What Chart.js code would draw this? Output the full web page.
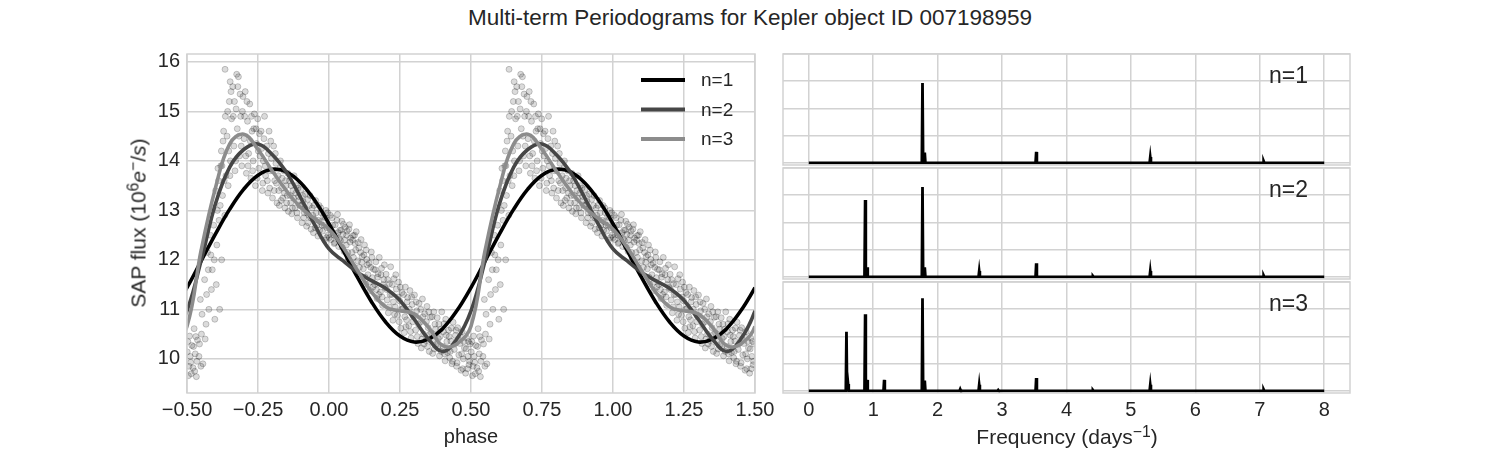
<!DOCTYPE html>
<html>
<head>
<meta charset="utf-8">
<script src="https://cdn.jsdelivr.net/npm/chart.js@4"></script>
<style>
  body { margin: 0; background: #fff; width: 1500px; height: 450px; position: relative; overflow: hidden;
         font-family: "Liberation Sans", Arial, sans-serif; color: #262626; }
  #title { position: absolute; left: 0; top: 5px; width: 1500px; text-align: center;
           font-size: 22.5px; line-height: 26px; }
  .axis-title { position: absolute; font-size: 21px; line-height: 1; white-space: nowrap;
                transform: translate(-50%, -50%); }
  .axis-title.vertical { transform: translate(-50%, -50%) rotate(-90deg); }
  .axis-title sup { font-size: 0.75em; position: relative; top: -0.45em; vertical-align: baseline; line-height: 0; }
  .axis-title i { font-style: italic; }
  canvas { position: absolute; }
</style>
</head>
<body>
<div id="title">Multi-term Periodograms for Kepler object ID 007198959</div>
<canvas id="phaseChart" width="780" height="450" style="left:0;top:0"></canvas>
<canvas id="psd1" width="578" height="121" style="left:778px;top:49px"></canvas>
<canvas id="psd2" width="578" height="121" style="left:778px;top:163px"></canvas>
<canvas id="psd3" width="578" height="173" style="left:778px;top:277px"></canvas>
<div class="axis-title vertical" style="left:138px;top:223px">SAP flux (10<sup>6</sup><i>e</i><sup>&minus;</sup>/<i>s</i>)</div>
<div class="axis-title" style="left:1067px;top:436px">Frequency (days<sup>&minus;1</sup>)</div>
<script>
// tick values
const phaseTicks = [-0.5, -0.25, 0, 0.25, 0.5, 0.75, 1, 1.25, 1.5];
const fluxTicks = [10, 11, 12, 13, 14, 15, 16];
const freqTicks = [0, 1, 2, 3, 4, 5, 6, 7, 8];
const powerTicks = [0, 0.2, 0.4, 0.6, 0.8];

// fitted curves over one period
const fitPhase = [0, 0.05, 0.1, 0.15, 0.2, 0.25, 0.3, 0.35, 0.4, 0.45,
                  0.5, 0.55, 0.6, 0.65, 0.7, 0.75, 0.8, 0.85, 0.9, 0.95];
const fitN1 = [12.73, 12.19, 11.65, 11.15, 10.74, 10.46, 10.34, 10.40, 10.61, 10.97,
               11.44, 11.98, 12.52, 13.02, 13.43, 13.71, 13.83, 13.78, 13.56, 13.20];
const fitN2 = [12.22, 11.98, 11.75, 11.58, 11.42, 11.18, 10.80, 10.40, 10.15, 10.40,
               10.97, 11.99, 13.13, 13.87, 14.23, 14.34, 14.13, 13.77, 13.26, 12.70];
const fitN3 = [12.62, 12.25, 11.79, 11.35, 11.05, 10.97, 10.91, 10.64, 10.27, 10.30,
               10.66, 12.20, 13.45, 14.34, 14.54, 14.23, 13.80, 13.40, 13.06, 12.83];

// observed [phase, flux] over one period
const observed = [
  [0.003,12.62],[0.007,12.41],[0.011,12.85],[0.015,12.55],[0.018,12.33],
  [0.022,12.71],[0.026,12.48],[0.030,12.92],[0.034,12.27],[0.038,12.60],
  [0.041,12.39],[0.045,12.78],[0.049,12.52],[0.053,12.17],[0.057,12.66],
  [0.061,12.30],[0.064,12.58],[0.068,12.02],[0.072,12.71],[0.076,12.44],
  [0.081,12.15],[0.085,12.49],[0.088,11.86],[0.092,12.33],[0.096,12.57],
  [0.101,11.98],[0.105,12.24],[0.109,11.67],[0.113,12.41],[0.117,12.07],
  [0.121,11.82],[0.125,12.30],[0.129,11.51],[0.133,12.01],[0.137,11.70],
  [0.141,11.93],[0.145,11.38],[0.149,12.16],[0.153,11.64],[0.157,11.81],
  [0.161,11.50],[0.165,11.96],[0.169,11.22],[0.173,11.72],[0.177,12.05],
  [0.181,11.35],[0.185,11.83],[0.189,11.08],[0.193,11.60],[0.197,11.44],
  [0.201,11.71],[0.205,11.19],[0.209,10.93],[0.213,11.52],[0.217,11.86],
  [0.221,11.30],[0.225,10.78],[0.229,11.62],[0.233,11.05],[0.237,11.41],
  [0.241,10.88],[0.245,11.55],[0.249,11.17],[0.253,10.62],[0.257,11.34],
  [0.261,11.02],[0.265,10.53],[0.269,11.45],[0.273,10.79],[0.277,11.24],
  [0.281,10.67],[0.285,11.38],[0.289,10.42],[0.293,11.10],[0.297,10.86],
  [0.301,11.29],[0.305,10.58],[0.309,10.97],[0.313,10.31],[0.317,11.12],
  [0.321,10.74],[0.325,10.22],[0.329,11.21],[0.333,10.50],[0.337,10.91],
  [0.341,10.37],[0.345,11.06],[0.349,10.63],[0.353,10.15],[0.357,10.84],
  [0.361,10.52],[0.365,10.11],[0.369,10.95],[0.373,10.70],[0.377,10.29],
  [0.381,10.83],[0.385,10.41],[0.389,10.06],[0.393,10.60],[0.397,10.95],
  [0.401,10.25],[0.405,10.71],[0.409,9.96],[0.413,10.48],[0.417,10.13],
  [0.421,10.58],[0.425,10.02],[0.429,10.36],[0.433,9.90],[0.437,10.74],
  [0.441,10.19],[0.445,10.47],[0.449,9.85],[0.453,10.63],[0.457,10.08],
  [0.461,10.31],[0.465,9.77],[0.469,10.55],[0.473,10.00],[0.477,10.22],
  [0.481,9.71],[0.485,10.42],[0.489,10.05],[0.493,9.88],[0.497,10.30],
  [0.501,10.14],[0.505,9.66],[0.509,10.46],[0.513,9.93],[0.517,10.27],
  [0.521,9.82],[0.525,10.61],[0.529,10.10],[0.533,9.64],[0.537,10.38],
  [0.542,10.05],[0.547,11.20],[0.551,10.50],[0.556,9.90],
  [0.562,11.60],[0.567,10.70],[0.572,12.15],[0.577,11.00],
  [0.582,12.50],[0.586,11.40],[0.591,13.05],[0.596,12.00],[0.598,10.80],
  [0.601,13.40],[0.603,11.50],[0.605,12.30],[0.609,13.85],[0.613,12.80],[0.615,11.00],[0.617,13.10],
  [0.621,14.20],[0.622,12.00],[0.625,13.30],[0.629,14.60],[0.633,12.90],[0.634,15.85],[0.637,13.70],
  [0.641,14.50],[0.645,13.50],[0.649,15.20],[0.652,15.60],[0.653,14.00],[0.657,14.85],
  [0.661,15.50],[0.665,14.30],[0.669,13.80],[0.673,15.05],[0.675,15.75],[0.677,14.65],
  [0.681,15.70],[0.685,14.10],[0.689,14.90],[0.693,13.90],[0.697,15.30],
  [0.701,14.45],[0.705,15.40],[0.709,13.75],[0.713,14.80],[0.717,14.15],
  [0.721,15.15],[0.725,13.65],[0.729,14.60],[0.733,14.00],[0.737,14.95],
  [0.741,13.50],[0.745,14.35],[0.749,14.85],[0.753,13.85],[0.757,14.10],
  [0.761,14.60],[0.765,13.40],[0.769,14.00],[0.773,14.90],[0.777,13.70],
  [0.781,14.30],[0.785,13.35],[0.789,14.60],[0.793,13.80],[0.797,14.05],
  [0.801,13.25],[0.805,14.30],[0.809,13.60],[0.813,13.95],[0.817,13.15],
  [0.821,13.70],[0.825,13.10],[0.829,14.00],[0.833,13.45],[0.837,13.25],
  [0.841,13.80],[0.845,13.05],[0.849,13.50],[0.853,13.30],[0.857,12.98],
  [0.861,13.60],[0.865,13.15],[0.869,12.93],[0.873,13.40],[0.877,13.70],
  [0.881,13.05],[0.885,13.50],[0.889,12.85],[0.893,13.28],[0.897,13.10],
  [0.901,13.42],[0.905,12.75],[0.909,13.18],[0.913,12.95],[0.917,13.33],
  [0.921,12.68],[0.925,13.22],[0.929,12.90],[0.933,13.30],[0.937,12.62],
  [0.941,13.05],[0.945,12.55],[0.949,12.82],[0.953,13.20],[0.957,12.70],
  [0.961,12.48],[0.965,13.10],[0.969,12.77],[0.973,12.95],[0.977,12.58],
  [0.981,12.88],[0.985,12.40],[0.989,13.00],[0.993,12.65],[0.997,12.50],
  // second pass over the denser parts of the cloud
  [0.001,12.45],[0.005,12.90],[0.013,12.70],[0.017,12.50],
  [0.020,12.35],[0.028,12.80],[0.032,12.55],[0.036,12.42],
  [0.043,12.60],[0.047,12.25],[0.051,12.72],[0.055,12.40],
  [0.062,12.50],[0.066,12.15],[0.070,12.62],[0.074,12.36],
  [0.083,12.40],[0.086,12.05],[0.090,12.50],[0.094,12.20],
  [0.103,12.35],[0.107,11.85],[0.111,12.15],[0.115,11.95],
  [0.123,12.10],[0.127,11.65],[0.131,12.20],[0.135,11.90],
  [0.143,11.55],[0.147,11.85],[0.151,12.05],[0.155,11.45],
  [0.163,11.80],[0.167,11.40],[0.171,11.65],[0.175,11.30],
  [0.183,11.70],[0.187,11.25],[0.191,11.50],[0.195,11.90],
  [0.203,11.40],[0.207,11.60],[0.211,11.05],[0.215,11.30],
  [0.223,11.50],[0.227,11.15],[0.231,10.90],[0.235,11.70],
  [0.243,11.25],[0.247,10.75],[0.251,11.45],[0.255,11.00],
  [0.263,11.30],[0.267,10.85],[0.271,10.65],[0.275,11.15],
  [0.283,11.00],[0.287,10.55],[0.291,11.25],[0.295,10.75],
  [0.303,10.85],[0.307,11.15],[0.311,10.45],[0.315,10.70],
  [0.323,11.00],[0.327,10.40],[0.331,10.85],[0.335,10.30],
  [0.343,10.75],[0.347,10.25],[0.351,10.95],[0.355,10.50],
  [0.363,10.85],[0.367,10.35],[0.371,10.20],[0.375,10.60],
  [0.383,10.25],[0.387,10.70],[0.391,10.45],[0.395,10.15],
  [0.403,10.55],[0.407,10.10],[0.411,10.80],[0.415,10.35],
  [0.423,10.45],[0.427,10.15],[0.431,10.62],[0.435,9.95],
  [0.443,10.30],[0.447,10.58],[0.451,9.92],[0.455,10.40],
  [0.463,10.45],[0.467,10.10],[0.471,9.80],[0.475,10.35],
  [0.483,10.20],[0.487,9.80],[0.491,10.35],[0.495,9.95],
  [0.503,10.35],[0.507,9.85],[0.511,10.05],[0.515,9.70],
  [0.523,10.25],[0.527,9.75],[0.531,10.45],[0.535,9.95],
  [0.544,10.30],[0.549,9.85],[0.553,10.90],
  [0.564,10.40],[0.569,11.30],[0.575,11.80],
  [0.584,12.10],[0.589,11.80],[0.594,12.70],
  [0.607,13.00],[0.611,13.60],[0.619,13.90],
  [0.623,13.90],[0.627,14.40],[0.631,13.60],[0.635,14.90],
  [0.643,15.00],[0.647,14.20],[0.651,13.70],[0.655,15.40],
  [0.663,14.90],[0.667,15.20],[0.671,14.00],[0.679,15.50],
  [0.683,14.50],[0.687,15.35],[0.691,14.30],[0.695,15.00],
  [0.703,14.90],[0.707,14.10],[0.711,15.20],[0.715,13.90],
  [0.723,14.40],[0.727,14.90],[0.731,13.80],[0.735,14.65],
  [0.743,14.65],[0.747,13.65],[0.751,14.20],[0.755,14.55],
  [0.763,14.25],[0.767,13.55],[0.771,14.45],[0.775,13.90],
  [0.783,13.60],[0.787,14.15],[0.791,13.45],[0.795,14.40],
  [0.803,13.80],[0.807,13.40],[0.811,14.15],[0.815,13.55],
  [0.823,13.40],[0.827,13.85],[0.831,13.20],[0.835,13.65],
  [0.843,13.35],[0.847,13.60],[0.851,13.15],[0.855,13.75],
  [0.863,13.30],[0.867,13.50],[0.871,13.05],[0.875,13.25],
  [0.883,13.35],[0.887,12.95],[0.891,13.45],[0.895,13.20],
  [0.903,13.10],[0.907,13.30],[0.911,12.85],[0.915,13.05],
  [0.923,12.95],[0.927,12.75],[0.931,13.10],[0.935,12.85],
  [0.943,12.90],[0.947,13.10],[0.951,12.65],[0.955,12.95],
  [0.963,12.80],[0.967,12.60],[0.971,13.05],[0.975,12.70],
  [0.983,12.70],[0.987,12.85],[0.991,12.45],[0.995,12.95]
];

// periodogram peaks (frequency in 1/day, power)
const freqRange = [0, 8];
const n1PeakFreq  = [1.765, 1.80, 3.53, 5.30, 7.06];
const n1PeakPower = [0.586, 0.075, 0.08, 0.042, 0.012];
const n2PeakFreq  = [0.875, 0.905, 1.765, 1.80, 2.645, 3.53, 4.41, 5.30, 7.06];
const n2PeakPower = [0.565, 0.07, 0.66, 0.07, 0.042, 0.10, 0.006, 0.042, 0.01];
const n3PeakFreq  = [0.585, 0.61, 0.875, 0.905, 1.17, 1.765, 1.80, 2.35, 2.645, 2.94, 3.53, 4.41, 5.30, 7.06];
const n3PeakPower = [0.435, 0.05, 0.563, 0.08, 0.08, 0.68, 0.075, 0.012, 0.044, 0.006, 0.094, 0.006, 0.044, 0.01];

const textColor = '#262626';
const gridColor = '#d2d2d2';
Chart.defaults.font.family = "'Liberation Sans', Arial, sans-serif";
Chart.defaults.color = textColor;

function foldCurve(values) {
  const pts = [];
  [-1, 0, 1].forEach(shift => {
    fitPhase.forEach((p, i) => pts.push({ x: p + shift, y: values[i] }));
  });
  return pts;
}

function foldObserved() {
  const pts = [];
  [-1, 0, 1].forEach(shift => {
    observed.forEach(([p, v]) => {
      const x = p + shift;
      if (x >= -0.5 && x <= 1.5) pts.push({ x: x, y: v });
    });
  });
  return pts;
}

function spikeLine(freqs, powers) {
  const hw = 0.01;
  const pts = [{ x: freqRange[0], y: 0 }];
  freqs.forEach((f, i) => {
    pts.push({ x: f - hw, y: 0 }, { x: f, y: powers[i] }, { x: f + hw, y: 0 });
  });
  pts.push({ x: freqRange[1], y: 0 });
  return pts;
}

function formatPhase(v) {
  return (v < 0 ? '\u2212' : '') + Math.abs(v).toFixed(2);
}

const framePlugin = {
  id: 'frame',
  afterDatasetsDraw(chart) {
    const { ctx, chartArea: a } = chart;
    ctx.save();
    ctx.strokeStyle = gridColor;
    ctx.lineWidth = 1.5;
    ctx.strokeRect(a.left, a.top, a.right - a.left, a.bottom - a.top);
    ctx.restore();
  }
};

const legendPlugin = {
  id: 'innerLegend',
  afterDraw(chart) {
    const { ctx, chartArea: a } = chart;
    ctx.save();
    ctx.font = "19px 'Liberation Sans', Arial, sans-serif";
    ctx.textBaseline = 'middle';
    ctx.fillStyle = textColor;
    chart.data.datasets.filter(d => d.label).forEach((d, i) => {
      const y = a.top + 26 + i * 29.5;
      ctx.strokeStyle = d.borderColor;
      ctx.lineWidth = 4;
      ctx.beginPath();
      ctx.moveTo(a.right - 114, y);
      ctx.lineTo(a.right - 70, y);
      ctx.stroke();
      ctx.fillText(d.label, a.right - 54, y + 1);
    });
    ctx.restore();
  }
};

const panelLabelPlugin = {
  id: 'panelLabel',
  afterDraw(chart, args, opts) {
    const { ctx, chartArea: a } = chart;
    ctx.save();
    ctx.font = "23px 'Liberation Sans', Arial, sans-serif";
    ctx.fillStyle = textColor;
    ctx.textAlign = 'right';
    ctx.textBaseline = 'alphabetic';
    ctx.fillText(opts.text, a.left + 0.926 * (a.right - a.left), a.top + 28.5);
    ctx.restore();
  }
};

// left panel: folded light curve
new Chart(document.getElementById('phaseChart'), {
  type: 'line',
  data: {
    datasets: [
      { type: 'scatter', data: foldObserved(), pointRadius: 3, pointBorderWidth: 1,
        pointBackgroundColor: 'rgba(0,0,0,0.14)', pointBorderColor: 'rgba(0,0,0,0.2)', order: 10, clip: 0 },
      { label: 'n=1', data: foldCurve(fitN1), borderColor: '#000000', borderWidth: 3.6,
        pointRadius: 0, tension: 0.4, order: 3, clip: 0 },
      { label: 'n=2', data: foldCurve(fitN2), borderColor: '#464646', borderWidth: 3.6,
        pointRadius: 0, tension: 0.4, order: 2, clip: 0 },
      { label: 'n=3', data: foldCurve(fitN3), borderColor: '#8c8c8c', borderWidth: 3.6,
        pointRadius: 0, tension: 0.4, order: 1, clip: 0 }
    ]
  },
  options: {
    responsive: false,
    animation: false,
    events: [],
    devicePixelRatio: 1,
    layout: { padding: { left: 120, top: 54, right: 25, bottom: 0 } },
    plugins: { legend: { display: false }, tooltip: { enabled: false } },
    scales: {
      x: {
        type: 'linear', min: -0.5, max: 1.5,
        afterBuildTicks: s => { s.ticks = phaseTicks.map(v => ({ value: v })); },
        afterFit: s => { s.height = 57; },
        ticks: { font: { size: 20 }, padding: 5, maxRotation: 0, autoSkip: false, callback: v => formatPhase(v) },
        grid: { color: gridColor, lineWidth: 1.5, drawTicks: false },
        border: { display: false },
        title: { display: true, text: 'phase', font: { size: 20 }, padding: { top: 0, bottom: 1 } }
      },
      y: {
        type: 'linear', min: 9.31, max: 16.16,
        afterBuildTicks: s => { s.ticks = fluxTicks.map(v => ({ value: v })); },
        afterFit: s => { s.width = 67; },
        ticks: { font: { size: 20 }, padding: 7 },
        grid: { color: gridColor, lineWidth: 1.5, drawTicks: false },
        border: { display: false }
      }
    }
  },
  plugins: [framePlugin, legendPlugin]
});

// right panels: periodograms
function psdChart(id, freqs, powers, label, showAxis) {
  return new Chart(document.getElementById(id), {
    type: 'line',
    data: {
      datasets: [
        { data: spikeLine(freqs, powers), borderColor: '#000000', borderWidth: 2.8,
          pointRadius: 0, tension: 0, clip: 0 }
      ]
    },
    options: {
      responsive: false,
      animation: false,
      events: [],
      devicePixelRatio: 1,
      layout: { padding: { left: 5, top: 5, right: 6, bottom: showAxis ? 0 : 5 } },
      plugins: { legend: { display: false }, tooltip: { enabled: false }, panelLabel: { text: label } },
      scales: {
        x: {
          type: 'linear', min: -0.4, max: 8.4,
          afterBuildTicks: s => { s.ticks = freqTicks.map(v => ({ value: v })); },
          afterFit: s => { s.height = showAxis ? 57 : 0; },
          ticks: { display: showAxis, font: { size: 20 }, padding: 5, maxRotation: 0, autoSkip: false },
          grid: { color: gridColor, lineWidth: 1.5, drawTicks: false },
          border: { display: false }
        },
        y: {
          type: 'linear', min: -0.016, max: 0.8,
          afterBuildTicks: s => { s.ticks = powerTicks.map(v => ({ value: v })); },
          afterFit: s => { s.width = 0; },
          ticks: { display: false },
          grid: { color: gridColor, lineWidth: 1.5, drawTicks: false },
          border: { display: false }
        }
      }
    },
    plugins: [framePlugin, panelLabelPlugin]
  });
}

psdChart('psd1', n1PeakFreq, n1PeakPower, 'n=1', false);
psdChart('psd2', n2PeakFreq, n2PeakPower, 'n=2', false);
psdChart('psd3', n3PeakFreq, n3PeakPower, 'n=3', true);
</script>
</body>
</html>
